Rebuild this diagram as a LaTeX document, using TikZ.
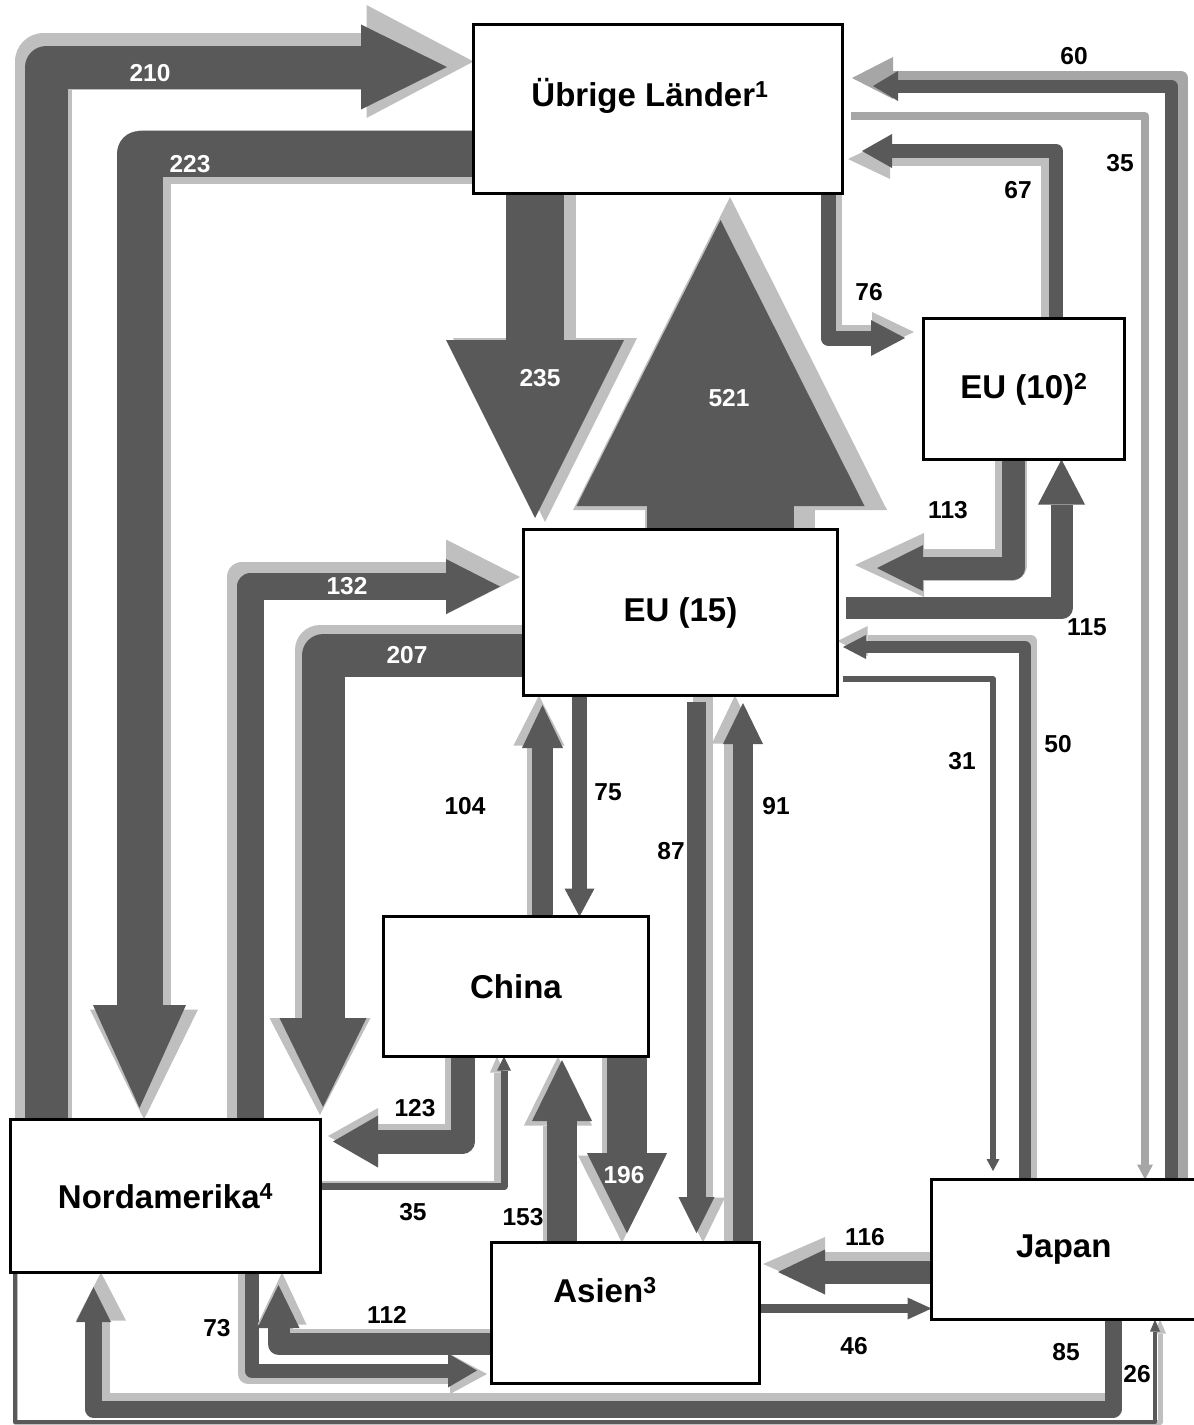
\documentclass[tikz,border=0pt]{standalone}
\usepackage{fontspec}
\setmainfont{Liberation Sans}
\usetikzlibrary{arrows.meta,calc,backgrounds}
\definecolor{DarkGrey}{RGB}{89,89,89}
\definecolor{LiteGrey}{RGB}{191,191,191}
\definecolor{MidGrey}{RGB}{166,166,166}

\begin{document}
\begin{tikzpicture}[x=1pt, y=-1pt]
\tikzset{
  region/.style={draw, line width=3pt, fill=white, inner sep=0pt, outer sep=0pt, font=\fontsize{33}{39}\selectfont\bfseries},
  regname/.style={inner sep=0pt, font=\fontsize{33}{39}\selectfont\bfseries},
  val/.style={inner sep=0pt, font=\fontsize{24.5}{29}\selectfont\bfseries},
  valw/.style={val, text=white},
  flow/.style n args={3}{line width=#1, line join=round, -{Triangle[width=#2, length=#3, line width=0pt]}}
}
  \useasboundingbox (0,0) rectangle (1194,1425);

  % regions
  \node[region, minimum width=369pt, minimum height=169pt] (ul) at (658,109) {};
  \node[regname] (ultext) at (650,96) {Übrige Länder\textsuperscript{1}};
  \node[region, minimum width=201pt, minimum height=141pt] (eu10) at (1024,389) {EU (10)\textsuperscript{2}};
  \node[region, minimum width=314pt, minimum height=166pt] (eu15) at (680.5,612.5) {EU (15)};
  \node[region, minimum width=265pt, minimum height=140pt] (china) at (516,986.5) {China};
  \node[region, minimum width=310pt, minimum height=153pt] (nord) at (165.5,1196) {Nordamerika\textsuperscript{4}};
  \node[region, minimum width=268pt, minimum height=141pt] (asien) at (625.5,1313) {};
  \node[regname] (asientext) at (605,1290) {Asien\textsuperscript{3}};
  \node[region, minimum width=264.5pt, minimum height=140pt] (japan) at (1063.75,1249.5) {Japan};

  \begin{pgfonlayer}{background}
  % flows out of Nordamerika
  \draw[LiteGrey, flow={57pt}{113pt}{107pt}] (43.5,0 |- nord.north) -- (43.5,61.5) -- (ul.west |- 0,61.5);
  \draw[DarkGrey, flow={43pt}{85pt}{86pt}] (46.5,0 |- nord.north) -- (46.5,67) -- (447,67);
  \draw[LiteGrey, flow={30pt}{75pt}{74pt}] (242,0 |- nord.north) -- (242,577) -- (520,577);
  \draw[DarkGrey, flow={27pt}{55pt}{54pt}] (250.5,0 |- nord.north) -- (250.5,586.5) -- (500,586.5);
  \draw[LiteGrey, flow={7pt}{14pt}{16pt}] (nord.east |- 0,1184) -- (497,1184) -- (497,0 |- china.south);
  \draw[DarkGrey, flow={7pt}{14pt}{14pt}] (nord.east |- 0,1186.5) -- (504,1186.5) -- (504,0 |- china.south);
  \draw[LiteGrey, flow={20pt}{40pt}{37pt}] (248,0 |- nord.south) -- (248,1374) -- (487,1374);
  \draw[DarkGrey, flow={14pt}{34pt}{29pt}] (251.5,0 |- nord.south) -- (251.5,1370.5) -- (477,1370.5);
  \draw[LiteGrey, flow={5pt}{12pt}{14pt}] (15,0 |- nord.south) -- (15,1422) -- (1160,1422) -- (1160,0 |- japan.south);
  \draw[DarkGrey, flow={4pt}{10pt}{12pt}] (15,0 |- nord.south) -- (15,1422) -- (1155,1422) -- (1155,0 |- japan.south);

  % flows out of Übrige Länder
  \draw[LiteGrey, flow={54pt}{108pt}{110pt}] (ul.west |- 0,157) -- (144,157) -- (144,0 |- nord.north);
  \draw[DarkGrey, flow={46pt}{93pt}{103pt}] (ul.west |- 0,153.5) -- (139.5,153.5) -- (139.5,1108);
  \draw[LiteGrey, flow={62pt}{184pt}{184pt}] (545,0 |- ul.south) -- (545,522);
  \draw[DarkGrey, flow={58pt}{178pt}{178pt}] (535,0 |- ul.south) -- (535,518);
  \draw[LiteGrey, flow={14pt}{40pt}{42pt}] (835,0 |- ul.south) -- (835,332) -- (914,332);
  \draw[DarkGrey, flow={15pt}{36pt}{34pt}] (828,0 |- ul.south) -- (828,338) -- (905,338);
  \draw[MidGrey, flow={8pt}{16pt}{15pt}] ($(ul.east |- 0,116)+(8,0)$) -- (1145,116) -- (1145,0 |- japan.north);

  % flows out of EU (15)
  \draw[LiteGrey, flow={170pt}{314pt}{313pt}] (730,0 |- eu15.north) -- (730,197);
  \draw[DarkGrey, flow={147pt}{288pt}{286pt}] (720.5,0 |- eu15.north) -- (720.5,220);
  \draw[LiteGrey, flow={50pt}{101pt}{97pt}] (eu15.west |- 0,650) -- (320,650) -- (320,1115);
  \draw[DarkGrey, flow={43pt}{87pt}{89pt}] (eu15.west |- 0,655.5) -- (323,655.5) -- (323,1107);
  \draw[DarkGrey, flow={15pt}{30pt}{28pt}] (579.5,0 |- eu15.south) -- (579.5,0 |- china.north);
  \draw[LiteGrey, flow={20pt}{44pt}{45pt}] (703,0 |- eu15.south) -- (703,0 |- asien.north);
  \draw[DarkGrey, flow={19pt}{36pt}{36pt}] (696.5,702) -- (696.5,1233);
  \draw[DarkGrey, flow={6pt}{13pt}{12pt}] ($(eu15.east |- 0,679)+(5,0)$) -- (993,679) -- (993,1171);

  % flows out of EU (10)
  \draw[LiteGrey, flow={14pt}{40pt}{42pt}] (1048,0 |- eu10.north) -- (1048,159) -- (848,159);
  \draw[DarkGrey, flow={14pt}{34pt}{30pt}] (1056,0 |- eu10.north) -- (1056,151) -- (862,151);
  \draw[LiteGrey, flow={32pt}{64pt}{69pt}] (1011,0 |- eu10.south) -- (1011,565) -- (855,565);
  \draw[DarkGrey, flow={23pt}{46pt}{46pt}] (1013.5,0 |- eu10.south) -- (1013.5,568) -- (877,568);
  \draw[DarkGrey, flow={22pt}{47pt}{45pt}] ($(eu15.east |- 0,608)+(8,0)$) -- (1061.5,608) -- (1061.5,0 |- eu10.south);

  % flows out of China
  \draw[LiteGrey, flow={24pt}{51pt}{50pt}] (539,0 |- china.north) -- (539,0 |- eu15.south);
  \draw[DarkGrey, flow={21pt}{41pt}{43pt}] (542.5,0 |- china.north) -- (542.5,705);
  \draw[LiteGrey, flow={24pt}{56pt}{50pt}] (457,0 |- china.south) -- (457,1136) -- (328,1136);
  \draw[DarkGrey, flow={24pt}{52pt}{45pt}] (462.5,0 |- china.south) -- (462.5,1141.5) -- (333,1141.5);
  \draw[LiteGrey, flow={40pt}{88pt}{87pt}] (622,0 |- china.south) -- (622,0 |- asien.north);
  \draw[DarkGrey, flow={40pt}{80pt}{80pt}] (627,0 |- china.south) -- (627,1233);

  % flows out of Asien
  \draw[LiteGrey, flow={22pt}{46pt}{48pt}] (735,0 |- asien.north) -- (735,0 |- eu15.south);
  \draw[DarkGrey, flow={20pt}{40pt}{41pt}] (743,0 |- asien.north) -- (743,703);
  \draw[LiteGrey, flow={30pt}{68pt}{69pt}] (558,0 |- asien.north) -- (558,0 |- china.south);
  \draw[DarkGrey, flow={30pt}{60pt}{61pt}] (562,0 |- asien.north) -- (562,1060);
  \draw[LiteGrey, flow={22pt}{49pt}{52pt}] (asien.west |- 0,1340) -- (282,1340) -- (282,0 |- nord.south);
  \draw[DarkGrey, flow={22pt}{42pt}{43pt}] (asien.west |- 0,1344) -- (278.5,1344) -- (278.5,1285);
  \draw[DarkGrey, flow={9pt}{22pt}{24pt}] (asien.east |- 0,1308.5) -- (japan.west |- 0,1308.5);

  % flows out of Japan
  \draw[MidGrey, flow={14pt}{42pt}{41pt}] (1181,0 |- japan.north) -- (1181,78) -- (852,78);
  \draw[DarkGrey, flow={13pt}{30pt}{25pt}] (1171,0 |- japan.north) -- (1171,86) -- (873,86);
  \draw[LiteGrey, flow={12pt}{30pt}{30pt}] (1031,0 |- japan.north) -- (1031,641) -- (eu15.east |- 0,641);
  \draw[DarkGrey, flow={12pt}{24pt}{23pt}] (1025,0 |- japan.north) -- (1025,647) -- (843,647);
  \draw[LiteGrey, flow={24pt}{54pt}{62pt}] (japan.west |- 0,1264) -- (763,1264);
  \draw[DarkGrey, flow={23pt}{45pt}{47pt}] (japan.west |- 0,1272) -- (778,1272);
  \draw[LiteGrey, flow={17pt}{50pt}{48pt}] (1113,0 |- japan.south) -- (1113,1401) -- (101,1401) -- (101,0 |- nord.south);
  \draw[DarkGrey, flow={17pt}{35pt}{35pt}] (1113,0 |- japan.south) -- (1113,1409) -- (93.5,1409) -- (93.5,1287);
  \end{pgfonlayer}

  % values
  \node[valw] (v210) at (150,73) {210};
  \node[valw] (v223) at (190,164) {223};
  \node[valw] (v235) at (540,378) {235};
  \node[valw] (v521) at (729,398) {521};
  \node[valw] (v132) at (347,586) {132};
  \node[valw] (v207) at (407,655) {207};
  \node[valw] (v196) at (624,1175) {196};
  \node[val] (v76) at (869,292) {76};
  \node[val] (v67) at (1018,190) {67};
  \node[val] (v60) at (1074,56) {60};
  \node[val] (v35a) at (1120,163) {35};
  \node[val] (v113) at (948,510) {113};
  \node[val] (v115) at (1087,627) {115};
  \node[val] (v104) at (465,806) {104};
  \node[val] (v75) at (608,792) {75};
  \node[val] (v87) at (671,851) {87};
  \node[val] (v91) at (776,806) {91};
  \node[val] (v31) at (962,761) {31};
  \node[val] (v50) at (1058,744) {50};
  \node[val] (v123) at (415,1108) {123};
  \node[val] (v35b) at (413,1212) {35};
  \node[val] (v153) at (523,1217) {153};
  \node[val] (v116) at (865,1237) {116};
  \node[val] (v46) at (854,1346) {46};
  \node[val] (v85) at (1066,1352) {85};
  \node[val] (v26) at (1137,1374) {26};
  \node[val] (v73) at (217,1328) {73};
  \node[val] (v112) at (387,1315) {112};
\end{tikzpicture}
\end{document}
